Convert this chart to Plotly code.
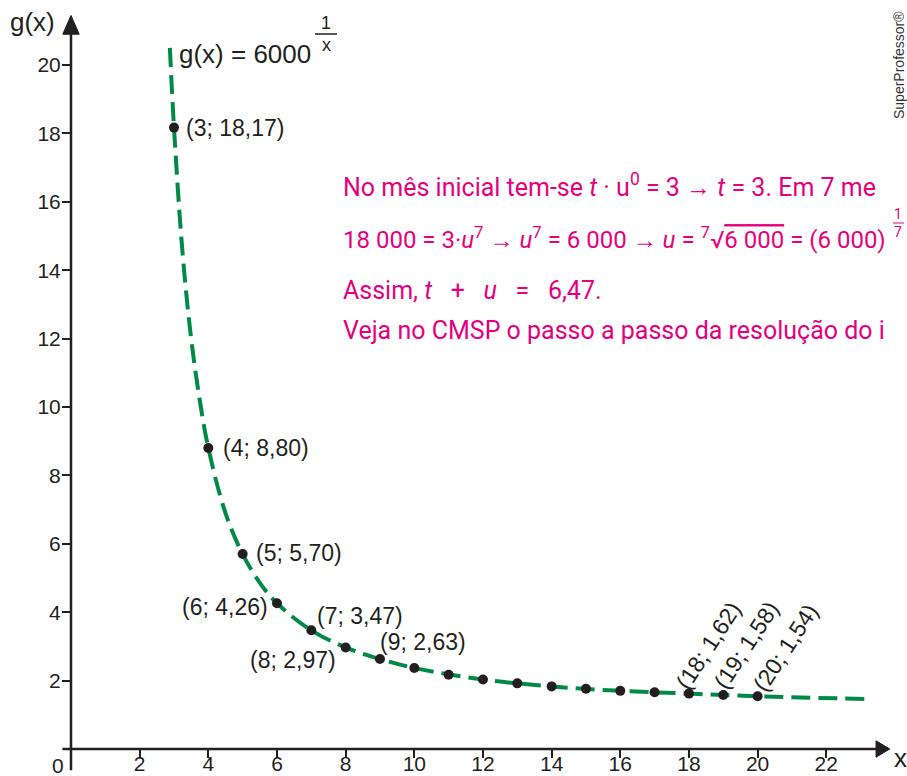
import plotly.graph_objects as go

W, H = 907, 776

# values
curve_x = [2.88, 3.0, 3.25, 3.5, 3.75, 4.0, 4.5, 5.0, 5.5, 6.0, 7.0, 8.0, 9.0,
           10.0, 12.0, 14.0, 16.0, 18.0, 20.0, 23.3]
curve_y = [20.5, 18.17, 14.5, 12.0, 10.2, 8.80, 6.9, 5.70, 4.86, 4.26, 3.47, 2.97, 2.63,
           2.37, 2.03, 1.83, 1.70, 1.62, 1.54, 1.46]

dot_x = list(range(3, 21))
dot_y = [18.17, 8.80, 5.70, 4.26, 3.47, 2.97, 2.63, 2.37, 2.17, 2.03, 1.92, 1.83,
         1.76, 1.70, 1.66, 1.62, 1.58, 1.54]

labeled_x = [3, 4, 5, 6, 7, 8, 9, 18, 19, 20]

x_ticks = list(range(2, 23, 2))
y_ticks = list(range(2, 21, 2))

# label placement (anchor, xshift, yshift, angle) in pixels
label_pos = {
    3: ('left', 10, 0, 0), 4: ('left', 13, 0, 0), 5: ('left', 11, 1, 0),
    6: ('right', -7, -4, 0), 7: ('left', 4, 14, 0), 8: ('right', -8, -13, 0),
    9: ('left', -2, 17, 0), 18: ('center', 19, 48, -57),
    19: ('center', 23, 50, -57), 20: ('center', 28, 48, -57),
}

INK = '#231f20'
GREEN = '#008a45'
PINK = '#e6007e'
SANS = 'Liberation Sans, Arial'

X0, Y0, SX, SY = 71, 749, 34.33, 34.2
XR = [-X0 / SX, (W - X0) / SX]
YR = [-(H - Y0) / SY, Y0 / SY]


def px(x):
    return x / W


def py(y):
    return 1 - y / H


def note(x, y, text, font, xanchor='center', **kw):
    fig.add_annotation(xref='paper', yref='paper', x=px(x), y=py(y), text=text,
                       xanchor=xanchor, yanchor='middle', showarrow=False,
                       font=font, **kw)


fig = go.Figure()
fig.add_trace(go.Scatter(
    x=curve_x, y=curve_y, mode='lines', line_shape='spline',
    line=dict(color=GREEN, width=4, dash='19px,8px'), hoverinfo='skip'))
fig.add_trace(go.Scatter(
    x=dot_x, y=dot_y, mode='markers', xaxis='x2', yaxis='y2',
    marker=dict(color=INK, size=10)))

for x, y in zip(dot_x, dot_y):
    if x not in labeled_x:
        continue
    anchor, dx, dy, ang = label_pos[x]
    txt = f"({x}; {y:.2f})".replace('.', ',')
    fig.add_annotation(x=x, y=y, text=txt, showarrow=False, xanchor=anchor,
                       yanchor='middle', xshift=dx, yshift=dy, textangle=ang,
                       font=dict(family=SANS, size=23, color=INK))

# axes lines and arrows
fig.add_shape(type='line', x0=0, x1=0, y0=-0.62, y1=20.96,
              line=dict(color=INK, width=2.5))
fig.add_shape(type='line', x0=-0.25, x1=23.5, y0=0, y1=0,
              line=dict(color=INK, width=2.5))
fig.add_shape(type='path', path='M -0.24,20.9 L 0.24,20.9 L 0,21.45 Z',
              fillcolor=INK, line=dict(color=INK, width=1))
fig.add_shape(type='path', path='M 23.45,-0.24 L 23.45,0.24 L 23.85,0 Z',
              fillcolor=INK, line=dict(color=INK, width=1))

axis_font = dict(family=SANS, size=26, color=INK)
note(32, 22, 'g(x)', axis_font)
note(900, 758, 'x', axis_font)
note(58, 765, '0', dict(family=SANS, size=21, color=INK))

# curve title with stacked exponent
note(177, 54, 'g(x) = 6000', axis_font, xanchor='left')
frac_font = dict(family=SANS, size=18, color=INK)
note(326, 23, '1', frac_font)
note(326, 45, 'x', frac_font)
fig.add_shape(type='line', xref='paper', yref='paper', x0=px(315), x1=px(337),
              y0=py(34), y1=py(34), line=dict(color=INK, width=1.5))

# pink solution text (cut at the right edge like the source)
pink = dict(family='Roboto, Noto Sans', size=25, color=PINK)
lines = [
    ("No mês inicial tem-se <i>t</i> · u<sup>0</sup> = 3 → <i>t</i> = 3. Em 7 me", 185, 25),
    ("18 000 = 3·<i>u</i><sup>7</sup> → <i>u</i><sup>7</sup> = 6 000 → <i>u</i> = "
     "<sup>7</sup>√<span style='text-decoration:overline'>6 000</span> = (6 000)", 238, 24),
    ("Assim, <i>t</i>   +   <i>u</i>   =   6,47.", 290, 25),
    ("Veja no CMSP o passo a passo da resolução do i", 330, 25),
]
for txt, yy, fs in lines:
    note(341, yy, txt, dict(pink, size=fs), xanchor='left')
note(898, 214, '1', dict(pink, size=14))
note(898, 232, '7', dict(pink, size=14))
fig.add_shape(type='line', xref='paper', yref='paper', x0=px(893), x1=px(904),
              y0=py(223), y1=py(223), line=dict(color=PINK, width=1))

note(899, 65, 'SuperProfessor®', dict(family=SANS, size=14, color='#333333'),
     textangle=-90)

tick_font = dict(family=SANS, size=21, color=INK)
common = dict(showgrid=False, zeroline=False, showline=False, anchor='free')
fig.update_layout(
    width=W, height=H,
    margin=dict(l=0, r=0, t=0, b=0, autoexpand=False),
    paper_bgcolor='white', plot_bgcolor='white',
    showlegend=False,
    # labels
    xaxis=dict(common, range=XR, position=(H - Y0) / H, tickvals=x_ticks,
               ticks='', tickfont=tick_font),
    yaxis=dict(common, range=YR, position=X0 / W, tickvals=y_ticks,
               ticks='outside', ticklen=6, tickcolor='rgba(0,0,0,0)', tickfont=tick_font),
    # tick marks
    xaxis2=dict(common, range=XR, overlaying='x', position=(H - Y0) / H,
                tickvals=x_ticks, ticks='outside', ticklen=8, tickwidth=2,
                tickcolor=INK, showticklabels=False),
    yaxis2=dict(common, range=YR, overlaying='y', position=X0 / W,
                tickvals=y_ticks, ticks='outside', ticklen=9, tickwidth=2,
                tickcolor=INK, showticklabels=False),
)

fig.write_html("out.html", config={'displayModeBar': False},
               post_script="document.body.style.margin = '0';")
